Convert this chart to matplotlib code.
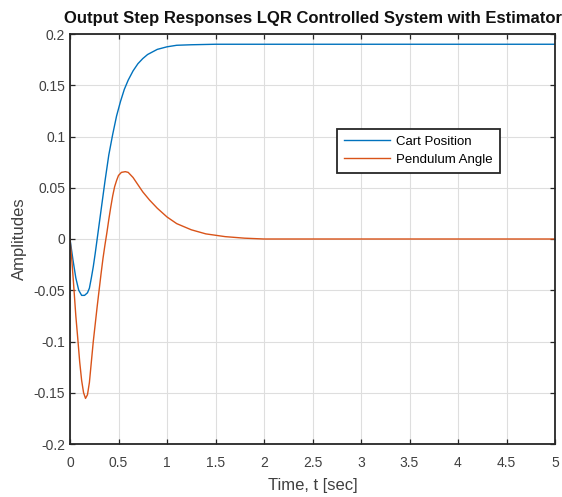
import matplotlib
matplotlib.use("Agg")
import matplotlib.pyplot as plt

plt.rcParams['font.family'] = ['Liberation Sans', 'DejaVu Sans']

# Time samples and responses
t_cart = [0.0, 0.03, 0.06, 0.09, 0.12, 0.15, 0.18, 0.20, 0.22, 0.24, 0.26, 0.28,
          0.30, 0.33, 0.36, 0.40, 0.44, 0.48, 0.52, 0.56, 0.60, 0.65, 0.70, 0.75,
          0.80, 0.90, 1.00, 1.10, 1.25, 1.50, 5.00]
cart_position = [0.0, -0.020, -0.038, -0.050, -0.055, -0.055, -0.0525, -0.048, -0.038,
                 -0.027, -0.014, 0.0, 0.014, 0.035, 0.056, 0.082, 0.102, 0.120, 0.134,
                 0.146, 0.155, 0.164, 0.171, 0.176, 0.180, 0.185, 0.1875, 0.189, 0.1895,
                 0.190, 0.190]

t_pend = [0.0, 0.02, 0.04, 0.06, 0.08, 0.10, 0.12, 0.14, 0.16, 0.18, 0.20, 0.22,
          0.24, 0.26, 0.28, 0.30, 0.32, 0.34, 0.36, 0.38, 0.40, 0.42, 0.44, 0.46,
          0.48, 0.50, 0.53, 0.57, 0.60, 0.65, 0.70, 0.75, 0.82, 0.90, 1.00, 1.10,
          1.25, 1.40, 1.60, 1.80, 2.00, 5.00]
pendulum_angle = [0.0, -0.022, -0.048, -0.075, -0.097, -0.120, -0.138, -0.150, -0.1555,
                  -0.152, -0.140, -0.120, -0.100, -0.083, -0.066, -0.050, -0.034, -0.019,
                  -0.006, 0.006, 0.019, 0.031, 0.042, 0.051, 0.057, 0.062, 0.065, 0.0657,
                  0.065, 0.060, 0.053, 0.046, 0.038, 0.030, 0.0215, 0.015, 0.009, 0.005,
                  0.0023, 0.0008, 0.0, 0.0]

series_labels = ["Cart Position", "Pendulum Angle"]
x_ticks = [0, 0.5, 1, 1.5, 2, 2.5, 3, 3.5, 4, 4.5, 5]
x_tick_labels = ["0", "0.5", "1", "1.5", "2", "2.5", "3", "3.5", "4", "4.5", "5"]
y_ticks = [-0.2, -0.15, -0.1, -0.05, 0, 0.05, 0.1, 0.15, 0.2]
y_tick_labels = ["-0.2", "-0.15", "-0.1", "-0.05", "0", "0.05", "0.1", "0.15", "0.2"]

fig = plt.figure(figsize=(5.62, 4.97), dpi=100)
ax = fig.add_axes([70 / 562, 1 - 444 / 497, (555 - 70) / 562, (444 - 34) / 497])

ax.plot(t_cart, cart_position, color='#0072BD', lw=1.0, label=series_labels[0])
ax.plot(t_pend, pendulum_angle, color='#D95319', lw=1.0, label=series_labels[1])

ax.set_xlim(0, 5)
ax.set_ylim(-0.2, 0.2)
ax.set_xticks(x_ticks)
ax.set_xticklabels(x_tick_labels)
ax.set_yticks(y_ticks)
ax.set_yticklabels(y_tick_labels)
ax.grid(True, color='#dedede', lw=0.8)
ax.set_axisbelow(True)
ax.tick_params(direction='in', length=3.5, width=0.9, colors='#262626',
               labelsize=10, top=True, right=True, labelcolor='#404040')
ax.tick_params(axis='x', pad=8.5)
ax.tick_params(axis='y', pad=3.5)
for s in ax.spines.values():
    s.set_color('#262626')
    s.set_linewidth(1.3)

ax.set_xlabel("Time, t [sec]", fontsize=12, color='#404040', labelpad=6)
ax.set_ylabel("Amplitudes", fontsize=12, color='#404040', labelpad=5)
ax.set_title("Output Step Responses LQR Controlled System with Estimator",
             fontsize=12, fontweight='bold', color='#111111', pad=8)

leg = ax.legend(loc='upper left', bbox_to_anchor=((337 - 70) / 485, 1 - (128.5 - 34) / 410),
                fontsize=9.5, frameon=True, fancybox=False, framealpha=1,
                edgecolor='#262626', borderpad=0.55, handlelength=3.5,
                labelspacing=0.42, borderaxespad=0, handletextpad=0.45)
leg.get_frame().set_linewidth(1.3)

fig.savefig("out.png", dpi=100)
